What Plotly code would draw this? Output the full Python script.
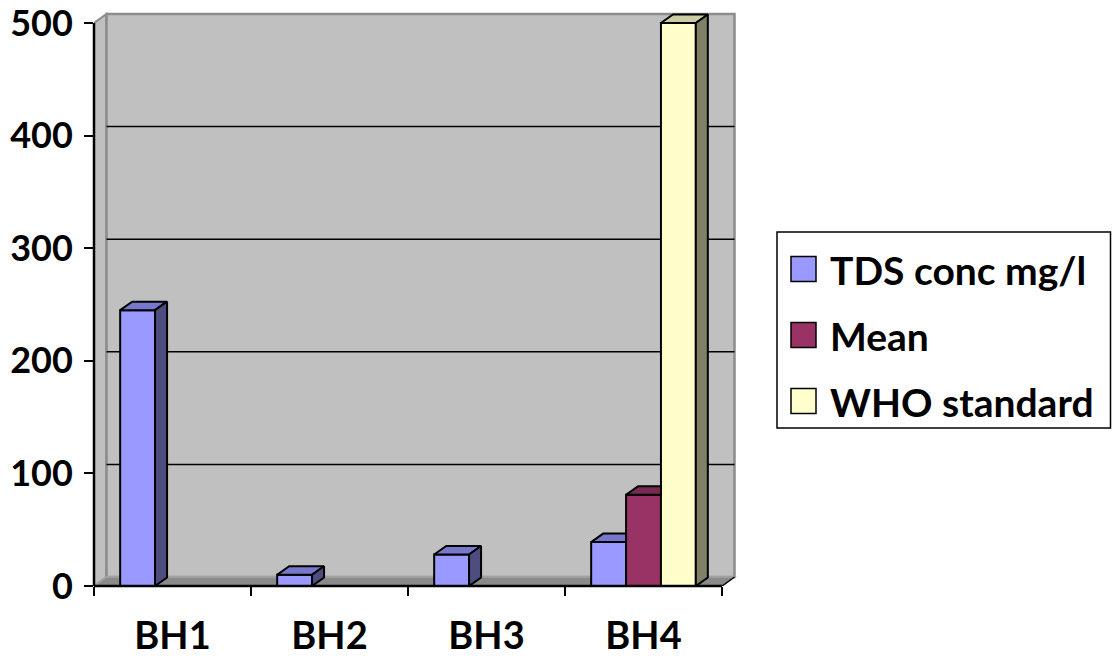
import plotly.graph_objects as go

# ---- data ----
categories = ["BH1", "BH2", "BH3", "BH4"]
tds_conc = [245, 10, 28, 39]
mean_tds = [None, None, None, 81]
who_standard = [None, None, None, 500]
series_names = ["TDS conc mg/l", "Mean", "WHO standard"]
y_ticks = [0, 100, 200, 300, 400, 500]

series_values = [tds_conc, mean_tds, who_standard]

# ---- styling ----
front_colors = ["#9999FF", "#993366", "#FFFFCC"]
top_colors = ["#7777CC", "#7A2952", "#CCCCA3"]
side_colors = ["#4D4D80", "#4D1A33", "#808066"]
wall_color = "#C0C0C0"
wall_edge = "#8C8C8C"
floor_color = "#8A8A8A"
FONT = "Lato"

W, H = 1112, 660
ml, mr, mt, mb = 94, 373, 10, 74
plot_w = W - ml - mr
plot_h = H - mt - mb
px_per_cat = 157.0
px_per_unit = 1.126

x_lo = -0.5
x_hi = x_lo + plot_w / px_per_cat
y_lo = 0.0
y_hi = plot_h / px_per_unit
y_top = y_ticks[-1]

# 3-D depth of walls and columns (category units / value units)
wall_dx = 12.5 / px_per_cat
wall_dy = 9.0 / px_per_unit
bar_dx = 12.0 / px_per_cat
bar_dy = 8.5 / px_per_unit

n_ser = len(series_values)
bar_w = 1.0 / (n_ser + 1.5)          # gap width 150 %
edge_l = x_lo
edge_r = x_lo + len(categories)

fig = go.Figure()

# front faces
for i, vals in enumerate(series_values):
    offset = -n_ser * bar_w / 2 + i * bar_w
    fig.add_trace(go.Bar(
        x=list(range(len(categories))), y=vals,
        width=bar_w, offset=offset,
        marker=dict(color=front_colors[i], line=dict(color="black", width=2)),
        name=series_names[i], showlegend=False, hoverinfo="skip",
    ))

# tops and sides of the columns
for i, vals in enumerate(series_values):
    for j, v in enumerate(vals):
        if v is None:
            continue
        x0 = j - n_ser * bar_w / 2 + i * bar_w
        x1 = x0 + bar_w
        nxt = series_values[i + 1][j] if i + 1 < n_ser else None
        hidden = nxt is not None and nxt >= v
        if hidden:
            tx = [x0, x1, x1, x0 + bar_dx, x0]
        else:
            tx = [x0, x1, x1 + bar_dx, x0 + bar_dx, x0]
        ty = [v, v, v + bar_dy, v + bar_dy, v]
        fig.add_trace(go.Scatter(
            x=tx, y=ty, mode="lines", fill="toself",
            fillcolor=top_colors[i], line=dict(color="black", width=2),
            showlegend=False, hoverinfo="skip",
        ))
        if not hidden:
            sx = [x1, x1 + bar_dx, x1 + bar_dx, x1, x1]
            sy = [0, bar_dy, v + bar_dy, v, 0]
            fig.add_trace(go.Scatter(
                x=sx, y=sy, mode="lines", fill="toself",
                fillcolor=side_colors[i], line=dict(color="black", width=2),
                showlegend=False, hoverinfo="skip",
            ))

shapes = []
# left side wall
shapes.append(dict(
    type="path", xref="x", yref="y", layer="below",
    path=(f"M{edge_l},{0} L{edge_l + wall_dx},{wall_dy} "
          f"L{edge_l + wall_dx},{y_top + wall_dy} L{edge_l},{y_top} Z"),
    fillcolor=wall_color, line=dict(color=wall_edge, width=2),
))
# back wall
shapes.append(dict(
    type="rect", xref="x", yref="y", layer="below",
    x0=edge_l + wall_dx, x1=edge_r + wall_dx, y0=wall_dy, y1=y_top + wall_dy,
    fillcolor=wall_color, line=dict(color=wall_edge, width=2.5),
))
# floor
shapes.append(dict(
    type="path", xref="x", yref="y", layer="below",
    path=(f"M{edge_l},{0} L{edge_r},{0} L{edge_r + wall_dx},{wall_dy} "
          f"L{edge_l + wall_dx},{wall_dy} Z"),
    fillcolor=floor_color, line=dict(color="#A6A6A6", width=1.5),
))
# gridlines on the back wall
for t in y_ticks[1:-1]:
    shapes.append(dict(
        type="line", xref="x", yref="y", layer="below",
        x0=edge_l + wall_dx, x1=edge_r + wall_dx, y0=t + wall_dy, y1=t + wall_dy,
        line=dict(color="black", width=1.5),
    ))
# front axis lines
shapes.append(dict(
    type="line", xref="x domain", yref="y domain", layer="above",
    x0=0, x1=0, y0=0, y1=(y_top - y_lo) / (y_hi - y_lo),
    line=dict(color="black", width=2.5),
))
shapes.append(dict(
    type="line", xref="x domain", yref="y domain", layer="above",
    x0=0, x1=(edge_r - x_lo) / (x_hi - x_lo), y0=0, y1=0,
    line=dict(color="black", width=2.5),
))
shapes.append(dict(
    type="line", xref="x", yref="y", layer="above",
    x0=edge_r, x1=edge_r + wall_dx, y0=0, y1=wall_dy,
    line=dict(color="black", width=1.5),
))


# ---- legend (drawn by hand) ----
def px_x(px):
    return (px - ml) / plot_w


def px_y(py):
    return (H - mb - py) / plot_h


annotations = []
shapes.append(dict(
    type="rect", xref="paper", yref="paper",
    x0=px_x(777), x1=px_x(1110.5), y0=px_y(428), y1=px_y(232),
    line=dict(color="black", width=1.5), fillcolor="white", layer="above",
))
leg_rows = [269, 335, 401]
for i, name in enumerate(series_names):
    cy = leg_rows[i]
    shapes.append(dict(
        type="rect", xref="paper", yref="paper",
        x0=px_x(791), x1=px_x(816), y0=px_y(cy + 12.5), y1=px_y(cy - 12.5),
        fillcolor=front_colors[i], line=dict(color="black", width=1.5), layer="above",
    ))
    annotations.append(dict(
        xref="paper", yref="paper", x=px_x(828), y=px_y(cy + 1),
        xanchor="left", yanchor="middle", showarrow=False, text=name,
        font=dict(family=FONT, size=39, color="black", weight="bold"),
    ))

fig.update_layout(
    width=W, height=H,
    margin=dict(l=ml, r=mr, t=mt, b=mb, pad=0),
    paper_bgcolor="white", plot_bgcolor="white",
    barmode="overlay",
    showlegend=False,
    shapes=shapes, annotations=annotations,
    xaxis=dict(
        range=[x_lo, x_hi], showgrid=False, zeroline=False, showline=False,
        automargin=False, ticklabeloverflow="allow",
        tickmode="array", tickvals=list(range(len(categories))), ticktext=categories,
        ticks="", ticklabelstandoff=24,
        tickfont=dict(family=FONT, size=38, color="black", weight="bold"),
        minor=dict(tickmode="array",
                   tickvals=[k - 0.5 for k in range(len(categories) + 1)],
                   ticks="outside", ticklen=9, tickwidth=2, tickcolor="black",
                   showgrid=False),
    ),
    yaxis=dict(
        range=[y_lo, y_hi], showgrid=False, zeroline=False, showline=False,
        automargin=False, ticklabeloverflow="allow",
        tickmode="array", tickvals=y_ticks, ticks="outside", ticklen=9,
        tickwidth=2, tickcolor="black", ticklabelstandoff=4,
        tickfont=dict(family=FONT, size=36, color="black", weight="bold"),
    ),
)

fig.write_html("out.html")
